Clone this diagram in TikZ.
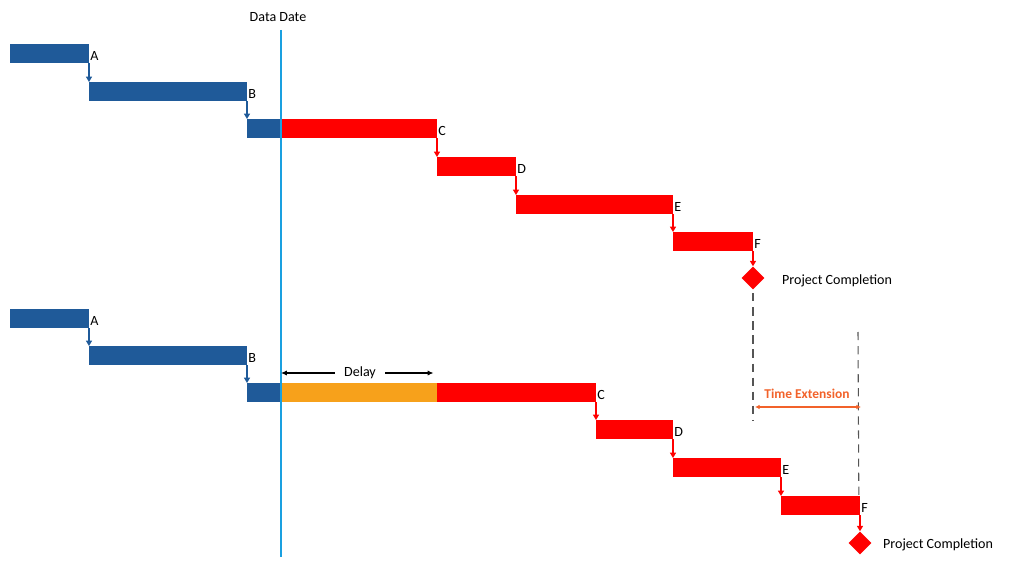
\documentclass[tikz,border=0pt]{standalone}
\usepackage{fontspec}
\setmainfont{Carlito}
\usetikzlibrary{arrows.meta, positioning, shapes.geometric}
\definecolor{barblue}{HTML}{1F5A99}
\definecolor{barred}{HTML}{FF0000}
\definecolor{barorange}{HTML}{F7A11B}
\definecolor{dateblue}{HTML}{1AA0E0}
\definecolor{extorange}{HTML}{F2622A}
\definecolor{dashgray}{HTML}{555555}
\newcommand\pxu{0.03cm}
\begin{document}
\begin{tikzpicture}[x=0.03cm, y=-0.03cm, font=\fontsize{12}{14}\selectfont,
  bar/.style={inner sep=0pt, outer sep=0pt, minimum height=19*\pxu, anchor=north west},
  tag/.style={anchor=west, inner sep=1pt},
  link/.style={-{Triangle[length=4.5pt, width=5pt]}, line width=1.1pt},
  milestone/.style={diamond, fill=barred, inner sep=0pt, minimum size=23*\pxu},
  spanarrow/.style={-{Latex[length=5pt, width=4.5pt]}, line width=1.1pt},
  guide/.style={dashgray, dashed, dash pattern=on 7pt off 5pt, line width=0.9pt}]
\useasboundingbox (0,0) rectangle (1024,564);
% bars: name / left / top / width / colour
\foreach \name/\x/\y/\w/\col in {tA/10/44/79/barblue, tB/89/82/158/barblue, tC0/247/119/34/barblue, tC/281/119/156/barred, tD/437/157/79/barred, tE/516/195/157/barred, tF/673/232/80/barred,
  bA/10/309/79/barblue, bB/89/346/158/barblue, bC0/247/383/34/barblue, bO/281/383/156/barorange, bC/437/383/159/barred, bD/596/420/77/barred, bE/673/458/108/barred, bF/781/496/79/barred}
  {\node[bar, fill=\col, minimum width=\w*\pxu] (\name) at (\x,\y) {};}
% milestones
\node[milestone] (tM) at (753,278) {};\node[anchor=west] (tMlbl) at (778,281) {Project Completion};
\node[milestone] (bM) at (860,543) {};\node[anchor=west] (bMlbl) at (879,545) {Project Completion};
% links
\foreach \a/\b/\col in {tA/tB/barblue, tB/tC0/barblue, tC/tD/barred, tD/tE/barred, tE/tF/barred, bA/bB/barblue, bB/bC0/barblue, bC/bD/barred, bD/bE/barred, bE/bF/barred}
  {\draw[link, \col] (\a.south east) -- (\b.north west);}
\draw[link, barred] (tF.south east) -- (tM.north);\draw[link, barred] (bF.south east) -- (bM.north);
% labels
\foreach \name/\txt in {tA/A, tB/B, tC/C, tD/D, tE/E, tF/F, bA/A, bB/B, bC/C, bD/D, bE/E, bF/F}
  {\node[tag] (\name-lbl) at ([yshift=-2pt]\name.east) {\txt};}
% data date
\coordinate (ddtop) at (281,30);\coordinate (ddbot) at (281,557);
\draw[dateblue, line width=1.6pt] (ddtop) -- (ddbot);
\node (ddlbl) at (278,17) {Data Date};
% delay
\node[inner sep=8pt] (dly) at (360,373) {Delay};
\draw[spanarrow] (dly.west) -- (dly.west -| ddtop);\draw[spanarrow] (dly.east) -- ([xshift=-3pt]dly.east -| bO.east);
% time extension
\coordinate (extL) at (753,420);\coordinate (extRtop) at (858,332);
\draw[guide] ([yshift=-3pt]tM.south) -- (extL);\draw[guide] (extRtop) -- ([xshift=-1pt]bF.north east);
\coordinate (extA) at (755,407);\coordinate (extB) at (861,407);
\draw[extorange, {Latex[length=4pt, width=4pt]}-{Latex[length=4pt, width=4pt]}, line width=1.2pt] (extA) -- (extB);
\node[extorange, font=\fontsize{11.5}{13}\selectfont\bfseries] (extlbl) at (807,394) {Time Extension};
\end{tikzpicture}
\end{document}
